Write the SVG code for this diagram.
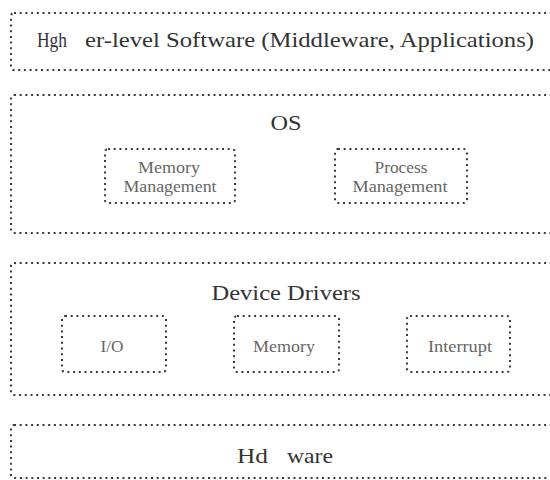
<svg xmlns="http://www.w3.org/2000/svg" width="550" height="480" viewBox="0 0 550 480">
<style>
  .outer { fill: none; stroke: #3a3a3a; stroke-width: 2; stroke-dasharray: 2 3.7; }
  .inner { fill: none; stroke: #3a3a3a; stroke-width: 2; stroke-dasharray: 2 3.7; }
  .big { font-family: "Liberation Serif", "Times New Roman", serif; font-size: 22px; fill: #333; }
  .small { font-family: "Liberation Serif", "Times New Roman", serif; font-size: 16px; fill: #666; text-anchor: middle; }
</style>
<rect width="550" height="480" fill="#ffffff"/>
<g id="higher-level">
  <rect class="outer" x="11" y="13" width="549" height="57" rx="3"/>
  <text class="big" y="47"><tspan x="37" textLength="30" lengthAdjust="spacingAndGlyphs">Hgh</tspan> <tspan x="85" textLength="449" lengthAdjust="spacingAndGlyphs">er-level Software (Middleware, Applications)</tspan></text>
</g>
<g id="os">
  <rect class="outer" x="11" y="95" width="549" height="138" rx="3"/>
  <text class="big" x="286" y="130" text-anchor="middle" textLength="31" lengthAdjust="spacingAndGlyphs">OS</text>
</g>
<g id="memory-management">
  <rect class="inner" x="105" y="149" width="130" height="54" rx="3"/>
  <text class="small" x="169" y="173" textLength="62" lengthAdjust="spacingAndGlyphs">Memory</text>
  <text class="small" x="170" y="192" textLength="93" lengthAdjust="spacingAndGlyphs">Management</text>
</g>
<g id="process-management">
  <rect class="inner" x="335" y="149" width="132" height="54" rx="3"/>
  <text class="small" x="401" y="173" textLength="53" lengthAdjust="spacingAndGlyphs">Process</text>
  <text class="small" x="400" y="192" textLength="95" lengthAdjust="spacingAndGlyphs">Management</text>
</g>
<g id="device-drivers">
  <rect class="outer" x="11" y="263" width="549" height="132" rx="3"/>
  <text class="big" x="286" y="300" text-anchor="middle" font-size="23" textLength="149" lengthAdjust="spacingAndGlyphs">Device Drivers</text>
</g>
<g id="io">
  <rect class="inner" x="62" y="316" width="104" height="56" rx="3"/>
  <text class="small" x="112" y="352" textLength="23" lengthAdjust="spacingAndGlyphs">I/O</text>
</g>
<g id="memory">
  <rect class="inner" x="234" y="316" width="105" height="56" rx="3"/>
  <text class="small" x="284" y="352" textLength="62" lengthAdjust="spacingAndGlyphs">Memory</text>
</g>
<g id="interrupt">
  <rect class="inner" x="407" y="316" width="103" height="56" rx="3"/>
  <text class="small" x="460" y="352" textLength="64" lengthAdjust="spacingAndGlyphs">Interrupt</text>
</g>
<g id="hardware">
  <rect class="outer" x="11" y="425" width="549" height="53" rx="3"/>
  <text class="big" y="463" font-size="23"><tspan x="237" textLength="31" lengthAdjust="spacingAndGlyphs">Hd</tspan> <tspan x="287" textLength="46" lengthAdjust="spacingAndGlyphs">ware</tspan></text>
</g>
<g id="connectors"></g>
</svg>
